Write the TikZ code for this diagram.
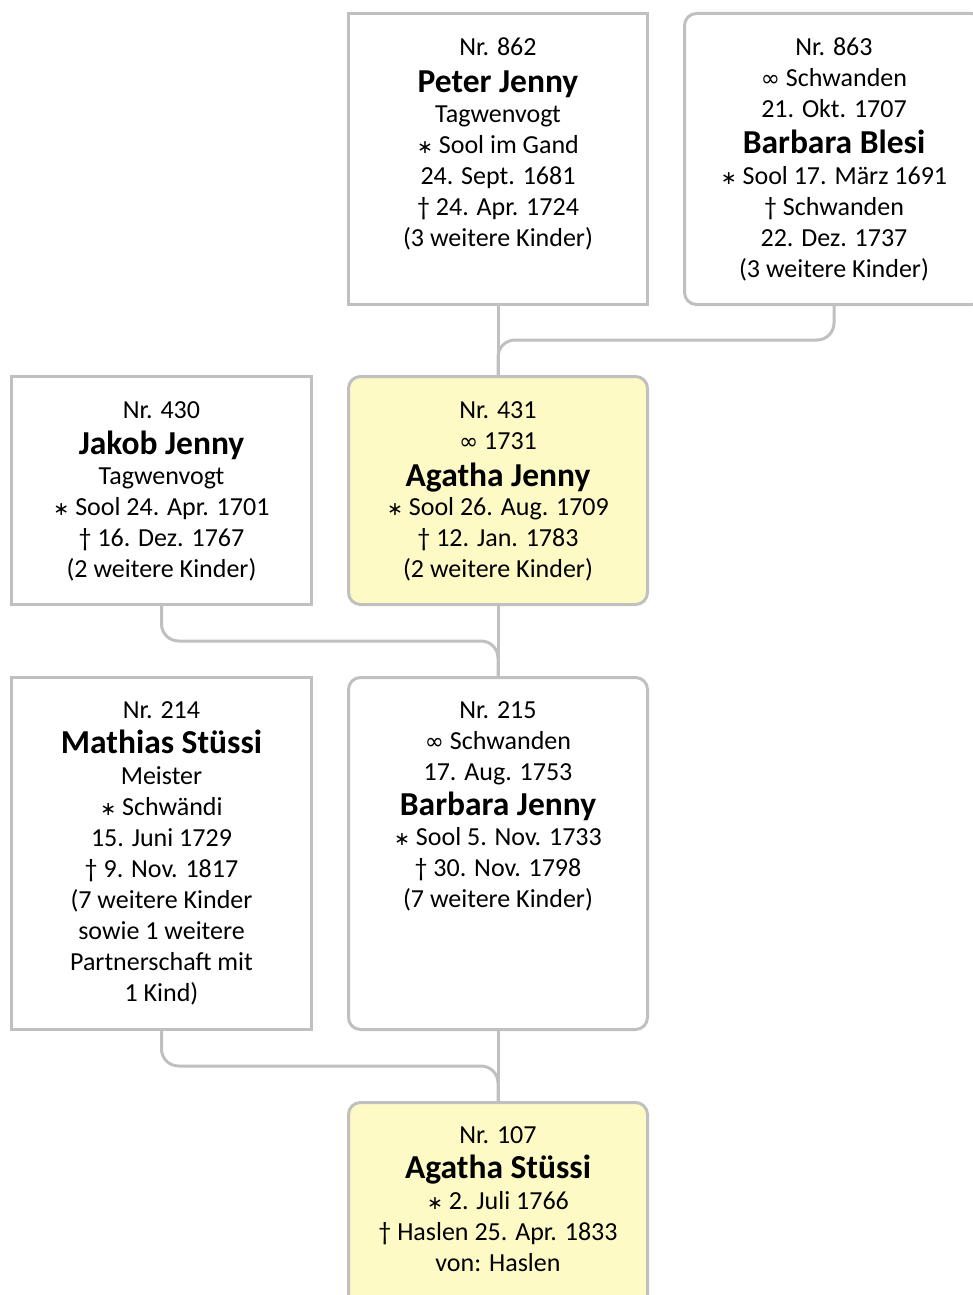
\documentclass[tikz,border=0pt]{standalone}
\usepackage{fontspec}
\setmainfont{Carlito}
\newfontfamily\symfont{DejaVu Sans}
\newcommand{\birth}{{\symfont\fontsize{19}{19}\selectfont ∗}}
\newcommand{\death}{†}
\newcommand{\marr}{{\symfont\fontsize{23}{23}\selectfont ∞}}
\newcommand{\pname}[1]{{\fontsize{33.5}{31}\selectfont\bfseries #1}}
\definecolor{edge}{RGB}{192,192,192}
\definecolor{hl}{RGB}{253,250,198}
\begin{document}
\begin{tikzpicture}[x=1pt,y=-1pt,
  male/.style={draw=edge, line width=3pt, fill=white, anchor=north west,
    inner sep=0pt, outer sep=0pt, minimum width=299pt},
  female/.style={male, rounded corners=12pt},
  hi/.style={fill=hl},
  conn/.style={draw=edge, line width=3pt, rounded corners=17pt},
  txt/.style={align=center, inner sep=0pt, anchor=north,
    font=\fontsize{26}{31}\selectfont}]
\useasboundingbox (0,0) rectangle (973,1295);

% person boxes
\node[male, minimum height=291pt] (p862) at (348.5,13.5) {};
\node[female, minimum height=291pt] (p863) at (684.5,13.5) {};
\node[male, minimum width=300pt, minimum height=228pt] (p430) at (11.5,376.5) {};
\node[female, hi, minimum height=228pt] (p431) at (348.5,376.5) {};
\node[male, minimum width=300pt, minimum height=352pt] (p214) at (11.5,677.5) {};
\node[female, minimum height=352pt] (p215) at (348.5,677.5) {};
\node[female, hi, minimum height=215pt] (p107) at (348.5,1102.5) {};

% bend points of the connectors
\coordinate (j1) at (498,340);
\coordinate (j2) at (498,641);
\coordinate (j3) at (498,1066);

% connectors
\draw[conn] (p862.south) -- (p431.north);
\draw[conn] (p863.south) |- (j1) -- (p431.north);
\draw[conn] (p431.south) -- (p215.north);
\draw[conn] (p430.south) |- (j2) -- (p215.north);
\draw[conn] (p215.south) -- (p107.north);
\draw[conn] (p214.south) |- (j3) -- (p107.north);

% texts
\node[txt] (t862) at (498,38) {Nr. 862\\[6pt]\pname{Peter Jenny}\\[-1pt]
  Tagwenvogt\\\birth{} Sool im Gand\\24. Sept. 1681\\\death{} 24. Apr. 1724\\
  (3 weitere Kinder)};
\node[txt] (t863) at (834,38) {Nr. 863\\\marr{} Schwanden\\21. Okt. 1707\\[5pt]
  \pname{Barbara Blesi}\\[0pt]\birth{} Sool 17. März 1691\\\death{} Schwanden\\
  22. Dez. 1737\\(3 weitere Kinder)};
\node[txt] (t430) at (161.5,401) {Nr. 430\\[5pt]\pname{Jakob Jenny}\\[-1pt]
  Tagwenvogt\\\birth{} Sool 24. Apr. 1701\\\death{} 16. Dez. 1767\\
  (2 weitere Kinder)};
\node[txt] (t431) at (498,401) {Nr. 431\\\marr{} 1731\\[6pt]
  \pname{Agatha Jenny}\\[-2pt]\birth{} Sool 26. Aug. 1709\\\death{} 12. Jan. 1783\\
  (2 weitere Kinder)};
\node[txt] (t214) at (161.5,701) {Nr. 214\\[4pt]\pname{Mathias Stüssi}\\[0pt]
  Meister\\\birth{} Schwändi\\15. Juni 1729\\\death{} 9. Nov. 1817\\
  (7 weitere Kinder\\sowie 1 weitere\\Partnerschaft mit\\1 Kind)};
\node[txt] (t215) at (498,701) {Nr. 215\\\marr{} Schwanden\\17. Aug. 1753\\[4pt]
  \pname{Barbara Jenny}\\[-1pt]\birth{} Sool 5. Nov. 1733\\\death{} 30. Nov. 1798\\
  (7 weitere Kinder)};
\node[txt] (t107) at (498,1126) {Nr. 107\\[4pt]\pname{Agatha Stüssi}\\[0pt]
  \birth{} 2. Juli 1766\\\death{} Haslen 25. Apr. 1833\\von: Haslen};
\end{tikzpicture}
\end{document}
